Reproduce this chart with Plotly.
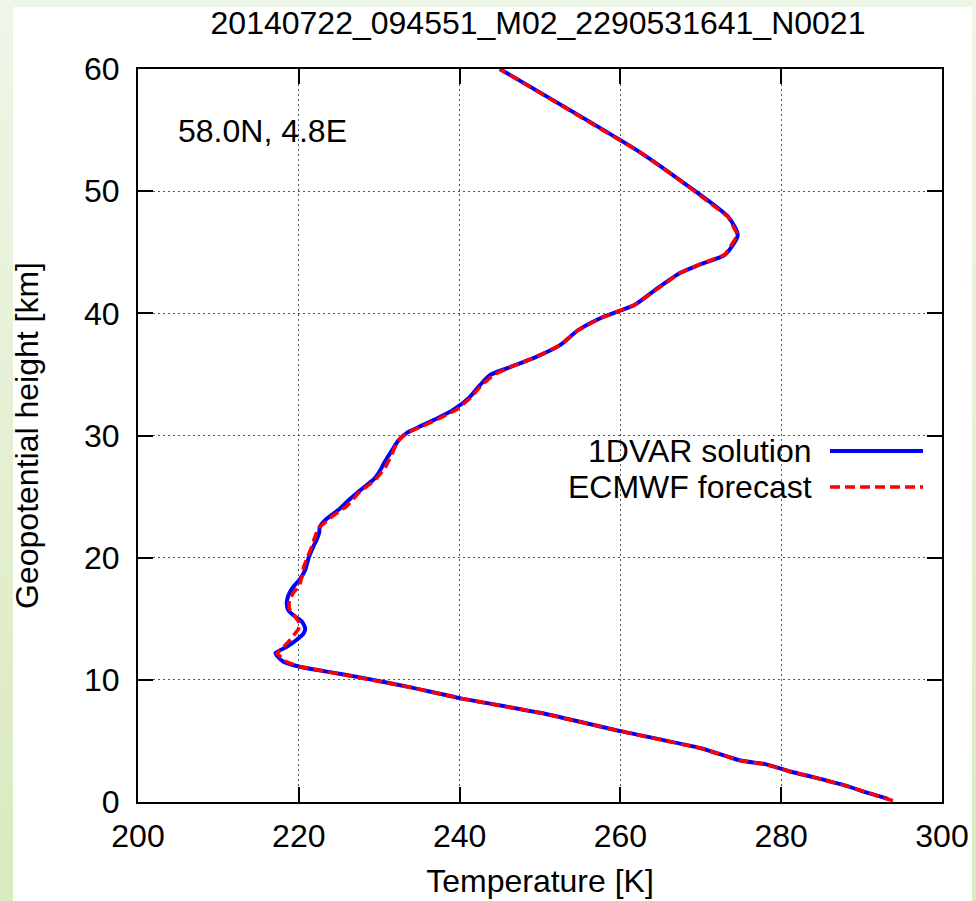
import plotly.graph_objects as go

# Retrieved temperature profile (1DVAR) and the model background (ECMWF)
var_height_km = [0.25, 0.7, 1.4, 2.0, 2.5, 3.1, 3.4, 4.4, 5.8, 7.3, 8.5, 9.4, 10.2, 10.67,
                 11.07, 11.48, 12.0, 12.2, 12.7, 13.26, 13.8, 14.2, 14.75, 15.2, 15.7, 16.25,
                 16.9, 17.6, 18.2, 19.0, 19.95, 20.9, 21.45, 22.1, 22.5, 23.2, 24.0, 24.7,
                 25.5, 26.4, 26.9, 27.85, 28.95, 29.6, 30.2, 31.3, 32.1, 33.1, 34.1, 34.95,
                 35.6, 36.4, 37.4, 38.6, 39.6, 40.7, 41.9, 43.3, 44.0, 44.8, 46.4, 47.9,
                 50.9, 53.2, 60.0]
var_temp_k = [293.3, 291.0, 287.7, 284.2, 281.1, 278.0, 274.9, 270.0, 260.0, 250.0, 240.0,
              233.8, 227.6, 223.5, 220.1, 218.1, 217.25, 217.1, 218.5, 219.7, 220.6, 220.8,
              220.4, 219.5, 218.7, 218.5, 218.7, 219.3, 220.1, 220.8, 221.2, 221.8, 222.2,
              222.55, 222.6, 223.5, 225.1, 226.2, 227.6, 229.3, 229.9, 230.7, 231.75, 232.4,
              233.4, 236.9, 239.2, 241.2, 242.5, 243.8, 246.3, 249.4, 252.5, 254.7, 257.5,
              261.8, 264.3, 267.4, 269.9, 273.0, 274.6, 273.4, 267.4, 262.4, 245.0]

ecmwf_height_km = [0.1, 0.7, 1.4, 2.0, 2.5, 3.1, 3.4, 4.4, 5.8, 7.3, 8.5, 9.4, 10.2, 10.67,
                   11.07, 11.5, 12.15, 13.1, 14.1, 14.55, 15.2, 15.85, 16.5, 17.1, 17.75,
                   18.45, 19.25, 20.2, 20.9, 21.7, 22.4, 23.35, 24.2, 25.4, 26.35, 27.3, 28.4,
                   29.5, 30.2, 31.3, 32.1, 33.1, 34.1, 34.95, 35.6, 36.4, 37.4, 38.6, 39.6,
                   40.7, 41.9, 43.3, 44.0, 44.8, 46.4, 47.9, 50.9, 53.2, 60.0]
ecmwf_temp_k = [293.9, 291.0, 287.7, 284.2, 281.1, 278.0, 274.9, 270.0, 260.0, 250.0, 240.0,
                233.8, 227.6, 223.5, 220.1, 218.4, 217.3, 218.7, 219.9, 220.2, 219.5, 218.8,
                218.8, 219.3, 220.1, 220.4, 220.6, 221.2, 221.6, 222.0, 222.4, 224.1, 225.95,
                227.6, 229.5, 230.7, 231.55, 232.25, 233.4, 237.2, 239.6, 241.4, 242.7, 244.2,
                246.3, 249.4, 252.5, 254.7, 257.5, 261.8, 264.3, 267.4, 269.9, 273.0, 274.6,
                273.4, 267.4, 262.4, 245.0]

x_ticks = [200, 220, 240, 260, 280, 300]
y_ticks = [0, 10, 20, 30, 40, 50, 60]

plot_title = "20140722_094551_M02_2290531641_N0021"
location_label = "58.0N, 4.8E"
series_names = ["1DVAR solution", "ECMWF forecast"]

FONT = "Liberation Sans, Arial, Helvetica, sans-serif"
FS = 32

fig = go.Figure()
fig.add_trace(go.Scatter(x=var_temp_k, y=var_height_km, mode="lines", name=series_names[0],
                         line=dict(color="#0000ff", width=4, shape="spline", smoothing=0.6),
                         showlegend=False))
fig.add_trace(go.Scatter(x=ecmwf_temp_k, y=ecmwf_height_km, mode="lines", name=series_names[1],
                         line=dict(color="#ff0000", width=3.5, dash="10px,5px"),
                         showlegend=False))

# Page frame: pale green background with a soft vertical gradient, white sheet on top
W, H = 976, 901
L, R, T, B = 138, 34, 69, 99
pw, ph = W - L - R, H - T - B


def px_to_paper_x(px):
    return (px - L) / pw


def px_to_paper_y(py):
    return (H - B - py) / ph


shapes = []
n_bands = 30
top_rgb = (238, 246, 231)
bot_rgb = (217, 234, 190)
for i in range(n_bands):
    f = i / (n_bands - 1)
    c = tuple(round(a + (b - a) * f) for a, b in zip(top_rgb, bot_rgb))
    y0 = H * i / n_bands
    y1 = H * (i + 1) / n_bands + 1
    shapes.append(dict(type="rect", xref="paper", yref="paper", layer="below",
                       x0=px_to_paper_x(0), x1=px_to_paper_x(W),
                       y0=px_to_paper_y(y1), y1=px_to_paper_y(y0),
                       fillcolor="rgb(%d,%d,%d)" % c, line=dict(width=0)))
shapes.append(dict(type="rect", xref="paper", yref="paper", layer="below",
                   x0=px_to_paper_x(13), x1=px_to_paper_x(972),
                   y0=px_to_paper_y(H + 2), y1=px_to_paper_y(7),
                   fillcolor="white", line=dict(width=0)))

# Key: right-aligned labels followed by line samples
key_rows = [(451, dict(color="#0000ff", width=4)),
            (487, dict(color="#ff0000", width=3.5, dash="10px,5px"))]
annotations = []
for name, (ky, style) in zip(series_names, key_rows):
    annotations.append(dict(text=name, xref="paper", yref="paper",
                            x=px_to_paper_x(813), y=px_to_paper_y(ky),
                            xanchor="right", yanchor="middle", showarrow=False,
                            borderpad=0,
                            font=dict(family=FONT, size=FS, color="black")))
    shapes.append(dict(type="line", xref="paper", yref="paper",
                       x0=px_to_paper_x(830), x1=px_to_paper_x(923),
                       y0=px_to_paper_y(ky), y1=px_to_paper_y(ky), line=style))

annotations.append(dict(text=location_label, xref="paper", yref="paper",
                        x=px_to_paper_x(176), y=px_to_paper_y(131),
                        xanchor="left", yanchor="middle", showarrow=False,
                        font=dict(family=FONT, size=FS, color="black")))

axis_common = dict(ticks="inside", ticklen=15, tickwidth=2, tickcolor="black",
                   showline=True, linecolor="black", linewidth=2, mirror="ticks",
                   showgrid=True, gridcolor="#555555", gridwidth=1, griddash="2px,3px",
                   zeroline=False, automargin=False,
                   tickfont=dict(family=FONT, size=FS, color="black"))

fig.update_layout(
    width=W, height=H, autosize=False,
    margin=dict(l=L, r=R, t=T, b=B, pad=0),
    paper_bgcolor="rgb(230,241,214)", plot_bgcolor="white",
    title=dict(text=plot_title, x=px_to_paper_x(538), xref="paper", xanchor="center",
               y=1 - 23 / H, yref="container", yanchor="middle", automargin=False,
               font=dict(family=FONT, size=FS, color="black")),
    xaxis=dict(range=[200, 300], tickvals=x_ticks, ticklabelstandoff=5,
               title=dict(text="Temperature [K]", standoff=16,
                          font=dict(family=FONT, size=FS, color="black")),
               **axis_common),
    yaxis=dict(range=[0, 60], tickvals=y_ticks, ticklabelstandoff=10,
               title=dict(text="Geopotential height [km]", standoff=36,
                          font=dict(family=FONT, size=FS, color="black")),
               **axis_common),
    shapes=shapes, annotations=annotations, showlegend=False,
)

fig.write_html("out.html")
